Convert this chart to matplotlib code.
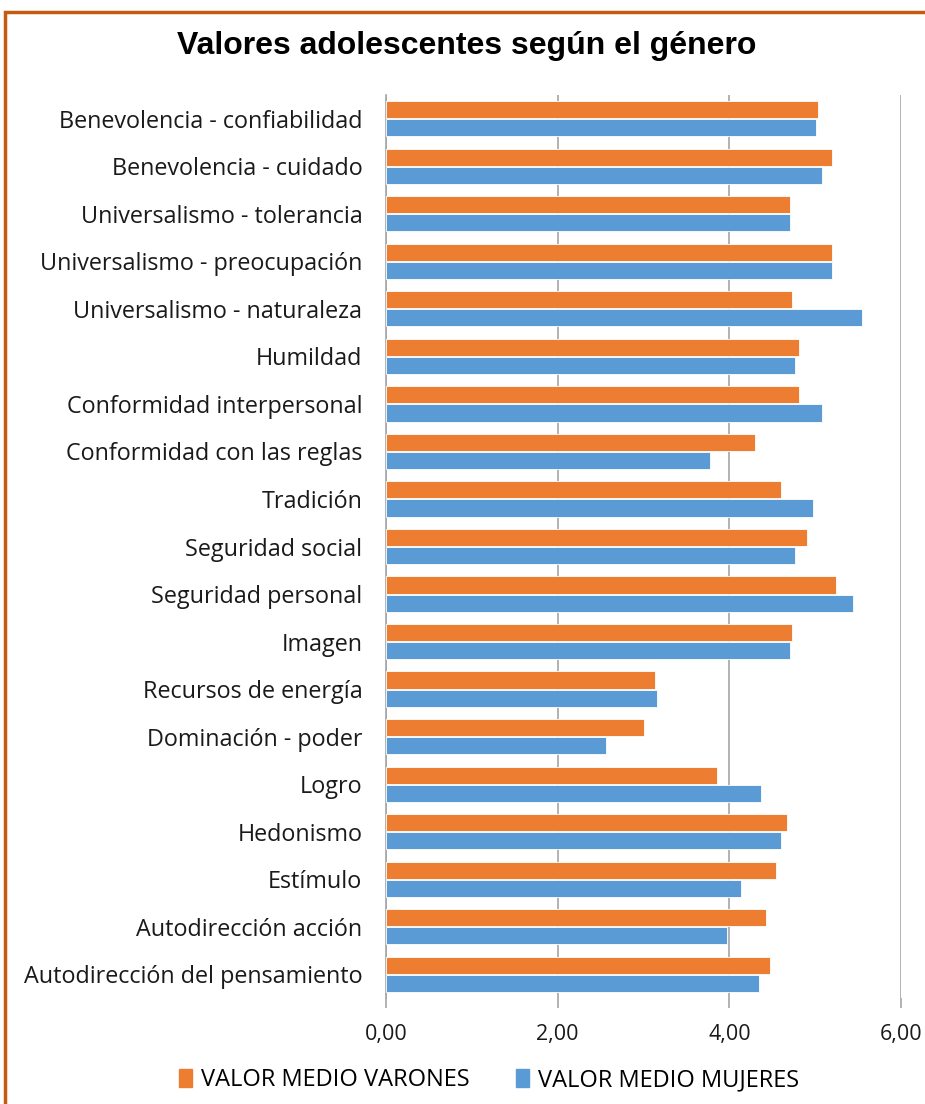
import matplotlib.pyplot as plt
import matplotlib.patches as mpatches
import numpy as np

categorias = ["Benevolencia - confiabilidad", "Benevolencia - cuidado",
              "Universalismo - tolerancia", "Universalismo - preocupación",
              "Universalismo - naturaleza", "Humildad", "Conformidad interpersonal",
              "Conformidad con las reglas", "Tradición", "Seguridad social",
              "Seguridad personal", "Imagen", "Recursos de energía",
              "Dominación - poder", "Logro", "Hedonismo", "Estímulo",
              "Autodirección acción", "Autodirección del pensamiento"]
varones = [5.03, 5.20, 4.71, 5.20, 4.73, 4.81, 4.81, 4.30, 4.60, 4.90,
           5.24, 4.73, 3.13, 3.00, 3.86, 4.67, 4.54, 4.43, 4.47]
mujeres = [5.01, 5.08, 4.71, 5.20, 5.54, 4.76, 5.08, 3.77, 4.97, 4.76,
           5.44, 4.71, 3.16, 2.56, 4.37, 4.60, 4.14, 3.97, 4.34]
ticks_x = [0, 2, 4, 6]
etiquetas_x = ["0,00", "2,00", "4,00", "6,00"]

naranja = "#ED7D31"
azul = "#5B9BD5"
gris = "#A6A6A6"

plt.rcParams['font.family'] = ['Open Sans', 'DejaVu Sans']

fig = plt.figure(figsize=(9.25, 11.04), dpi=100)
ax = fig.add_axes([386/925, 1 - 998/1104, (901-386)/925, (998-95)/1104])

y = np.arange(len(categorias))
h = 0.36
ax.barh(y - 0.19, varones, height=h, color=naranja, edgecolor="white", linewidth=0.6,
        label="VALOR MEDIO VARONES", zorder=3)
ax.barh(y + 0.19, mujeres, height=h, color=azul, edgecolor="white", linewidth=0.6,
        label="VALOR MEDIO MUJERES", zorder=3)

ax.set_ylim(len(categorias) - 0.5, -0.5)
ax.set_xlim(0, 6)
ax.set_yticks(y)
ax.set_yticklabels(categorias, fontsize=16.8, color="#1a1a1a")
ax.set_xticks(ticks_x)
ax.set_xticklabels(etiquetas_x, fontsize=15.5, color="#1a1a1a")
ax.tick_params(axis='y', length=0, pad=17)
ax.tick_params(axis='x', length=7, width=1.2, color=gris, pad=12)
ax.grid(axis='x', color=gris, linewidth=1.2, zorder=0)
for s in ["top", "right", "bottom"]:
    ax.spines[s].set_visible(False)
ax.spines["left"].set_color(gris)
ax.spines["left"].set_linewidth(1.2)

fig.text(467/925, 1 - 46/1104, "Valores adolescentes según el género",
         ha="center", va="center", fontsize=23, fontweight="bold",
         family="Liberation Sans")

handles = [mpatches.Patch(color=naranja), mpatches.Patch(color=azul)]
fig.legend(handles, ["VALOR MEDIO VARONES", "VALOR MEDIO MUJERES"],
           loc="center", bbox_to_anchor=(489/925, 1 - 1080/1104), ncol=2,
           frameon=False, fontsize=17, handlelength=0.55, handleheight=0.8,
           handletextpad=0.35, columnspacing=2.0)

# marco naranja (recortado a la derecha y abajo)
fig.add_artist(mpatches.Rectangle((5/925, -0.1), 1.2, 1 - 12/1104 + 0.1,
                                  transform=fig.transFigure, fill=False,
                                  edgecolor="#C55A11", linewidth=2.5))

fig.savefig("out.png", dpi=100)
